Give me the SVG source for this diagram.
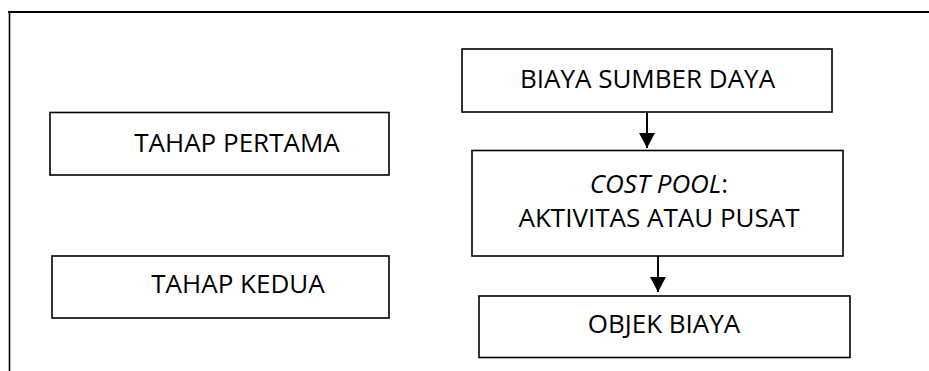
<svg xmlns="http://www.w3.org/2000/svg" width="929" height="371" viewBox="0 0 929 371">
<style>
.box{fill:#fff;stroke:#000;stroke-width:1.6}
.t{font-family:"Open Sans","Liberation Sans",Arial,sans-serif;font-size:26px;fill:#000;text-anchor:middle}
.c{stroke:#000;stroke-width:2;fill:none}
</style>
<defs>
<marker id="ah" markerUnits="userSpaceOnUse" markerWidth="16" markerHeight="16" refX="15" refY="8" orient="auto">
<path d="M0,0 L15,8 L0,16 Z" fill="#000"/>
</marker>
</defs>
<rect width="929" height="371" fill="#fff"/>
<g id="frame">
<line x1="8" y1="12" x2="929" y2="12" stroke="#000" stroke-width="2.2"/>
<line x1="9.5" y1="11" x2="9.5" y2="371" stroke="#000" stroke-width="1.6"/>
</g>
<g id="tahap-pertama">
<rect class="box" x="50" y="112.5" width="339" height="62.5"/>
<text class="t" x="237" y="152">TAHAP PERTAMA</text>
</g>
<g id="tahap-kedua">
<rect class="box" x="52" y="256" width="337" height="62"/>
<text class="t" x="238" y="293">TAHAP KEDUA</text>
</g>
<g id="biaya-sumber-daya">
<rect class="box" x="462" y="49" width="370" height="63"/>
<text class="t" x="647.5" y="88">BIAYA SUMBER DAYA</text>
</g>
<g id="cost-pool">
<rect class="box" x="472" y="150.5" width="371" height="105.5"/>
<text class="t" x="659" y="193"><tspan font-style="italic">COST POOL</tspan>:</text>
<text class="t" x="659" y="227">AKTIVITAS ATAU PUSAT</text>
</g>
<g id="objek-biaya">
<rect class="box" x="479" y="296" width="371" height="61.5"/>
<text class="t" x="664" y="333">OBJEK BIAYA</text>
</g>
<g id="connectors">
<line class="c" x1="647" y1="112" x2="647" y2="148" marker-end="url(#ah)"/>
<line class="c" x1="658" y1="256" x2="658" y2="292" marker-end="url(#ah)"/>
</g>
</svg>
